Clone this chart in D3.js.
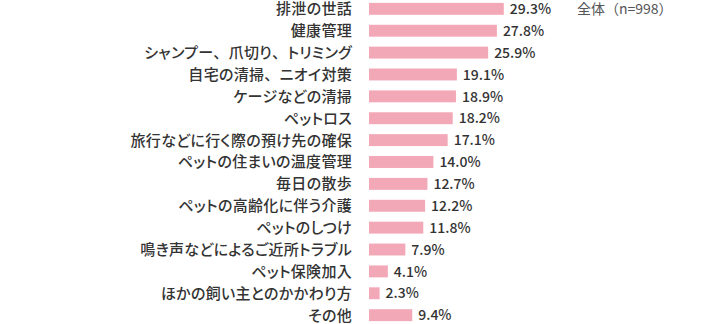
<!DOCTYPE html>
<html><head><meta charset="utf-8">
<script src="https://cdn.jsdelivr.net/npm/d3@7"></script>
<style>
html,body{margin:0;padding:0;background:#fff;}
text{font-family:"Noto Sans CJK JP","Noto Sans",sans-serif;}
.cat{font-feature-settings:"palt";}
.cat tspan.full{font-feature-settings:normal;}
</style></head><body>
<svg id="c" width="720" height="324"></svg>
<script>
const categories = ["排泄の世話","健康管理","シャンプー、爪切り、トリミング","自宅の清掃、ニオイ対策","ケージなどの清掃","ペットロス","旅行などに行く際の預け先の確保","ペットの住まいの温度管理","毎日の散歩","ペットの高齢化に伴う介護","ペットのしつけ","鳴き声などによるご近所トラブル","ペット保険加入","ほかの飼い主とのかかわり方","その他"];
const values = [29.3,27.8,25.9,19.1,18.9,18.2,17.1,14.0,12.7,12.2,11.8,7.9,4.1,2.3,9.4];
const legendLabel = "全体（n=998）";

const svg = d3.select("#c");
const x = d3.scaleLinear().domain([0,30]).range([369, 369+30*4.6]);
const y = d3.scaleBand().domain(categories).range([-1.5, 325.5]).paddingInner(0.455).paddingOuter(0.2);

svg.selectAll("rect.bar").data(values).join("rect")
  .attr("class","bar")
  .attr("x", x(0))
  .attr("y", (d,i)=>y(categories[i]))
  .attr("width", d=>x(d)-x(0))
  .attr("height", y.bandwidth())
  .attr("fill","#f3a8b7");

const cats = svg.selectAll("text.cat").data(categories).join("text")
  .attr("class","cat")
  .attr("x", 352)
  .attr("y", d=>y(d)+y.bandwidth()/2)
  .attr("dy","0.36em")
  .attr("text-anchor","end")
  .attr("font-size",15)
  .attr("letter-spacing",0.3)
  .attr("font-weight",500)
  .attr("fill","#333");
cats.each(function(d){
  const parts = d.split(/(、)/).filter(s=>s.length);
  d3.select(this).selectAll("tspan").data(parts).join("tspan")
    .attr("class", s=>s==="、"?"full":null)
    .text(s=>s);
});

svg.selectAll("text.val").data(values).join("text")
  .attr("class","val")
  .attr("x", d=>x(d)+6)
  .attr("y", (d,i)=>y(categories[i])+y.bandwidth()/2)
  .attr("dy","0.37em")
  .attr("font-size",14)
  .attr("font-weight",500)
  .attr("fill","#333")
  .text(d=>d.toFixed(1)+"%");

svg.append("text")
  .attr("x", 577).attr("y", y(categories[0])+y.bandwidth()/2)
  .attr("dy","0.37em")
  .attr("font-size",14)
  .attr("fill","#555")
  .text(legendLabel);
</script>
</body></html>
